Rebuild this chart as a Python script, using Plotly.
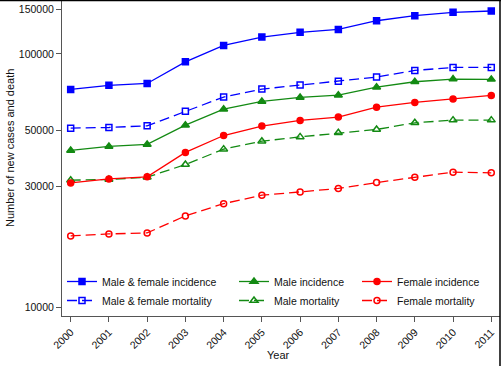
import plotly.graph_objects as go

years = list(range(2000, 2012))
mf_incidence = [72500, 75200, 76500, 93100, 108100, 116600, 121700, 125000, 135200, 141500, 145900, 147700]
mf_mortality = [51000, 51300, 52100, 59500, 67600, 72700, 75400, 78100, 81100, 86100, 88500, 88500]
male_incidence = [41650, 43200, 44000, 52400, 60600, 65000, 67400, 68800, 74000, 77700, 79600, 79400]
male_mortality = [31800, 32000, 32670, 36650, 42140, 45300, 47100, 48870, 50400, 53540, 54850, 54850]
female_incidence = [31000, 32170, 32770, 40900, 47700, 51950, 54700, 56400, 61700, 64400, 66500, 68650]
female_mortality = [19170, 19520, 19700, 22990, 25700, 27740, 28590, 29490, 31120, 32680, 34200, 33980]
y_ticks = [10000, 30000, 50000, 100000, 150000]

BLUE = "#0000ff"
GREEN = "#138a13"
RED = "#ff0000"
FONT = "Liberation Sans, Arial, sans-serif"
FS = 10.5

series = [
    ("Male & female incidence", mf_incidence, BLUE, "square", "solid", "legend"),
    ("Male & female mortality", mf_mortality, BLUE, "square-open", "10px,5px", "legend"),
    ("Male incidence", male_incidence, GREEN, "triangle-up", "solid", "legend2"),
    ("Male mortality", male_mortality, GREEN, "triangle-up-open", "10px,5px", "legend2"),
    ("Female incidence", female_incidence, RED, "circle", "solid", "legend3"),
    ("Female mortality", female_mortality, RED, "circle-open", "10px,5px", "legend3"),
]

fig = go.Figure()
for name, vals, col, sym, dash, leg in series:
    fig.add_trace(go.Scatter(
        x=years, y=vals, name=name, mode="lines+markers",
        line=dict(color=col, width=1.3, dash=dash),
        marker=dict(symbol=sym, size=6 if "triangle" not in sym else 7, color=col,
                    line=dict(color=col, width=1.5)),
        legend=leg,
    ))

L, R, T, B = 62, 1, 1, 50
pw, ph = 501 - L - R, 366 - T - B

def px2x(p):
    return (p - L) / pw

def py2y(p):
    return (366 - B - p) / ph

leg_common = dict(orientation="v", yanchor="top", xanchor="left", bgcolor="rgba(0,0,0,0)",
                  font=dict(family=FONT, size=FS, color="#111"), tracegroupgap=0, borderwidth=0)
ly = py2y(267)
fig.update_layout(
    width=501, height=366,
    margin=dict(l=L, r=R, t=T, b=B, autoexpand=False),
    paper_bgcolor="white", plot_bgcolor="white",
    font=dict(family=FONT, size=FS, color="#111"),
    legend=dict(x=px2x(62), y=ly, **leg_common),
    legend2=dict(x=px2x(234), y=ly, **leg_common),
    legend3=dict(x=px2x(357), y=ly, **leg_common),
    xaxis=dict(range=[1999.773, 2011.228], tickmode="array", tickvals=years,
               ticktext=[str(y) for y in years], tickangle=-45,
               showline=True, linecolor="#555", linewidth=1, ticks="outside",
               ticklen=5, tickcolor="#555", showgrid=False, zeroline=False,
               tickfont=dict(family=FONT, size=FS, color="#111")),
    yaxis=dict(type="log", range=[3.9669, 5.2088], tickmode="array", tickvals=y_ticks,
               ticktext=[str(v) for v in y_ticks],
               showline=True, linecolor="#555", linewidth=1, ticks="outside",
               ticklen=5, tickcolor="#555", showgrid=False, zeroline=False,
               tickfont=dict(family=FONT, size=FS, color="#111")),
    annotations=[
        dict(text="Number of new cases and death", x=px2x(10), y=py2y(148),
             xref="paper", yref="paper", textangle=-90, showarrow=False,
             xanchor="center", yanchor="middle", font=dict(family=FONT, size=11, color="#111")),
        dict(text="Year", x=px2x(278), y=py2y(355), xref="paper", yref="paper",
             showarrow=False, xanchor="center", yanchor="middle",
             font=dict(family=FONT, size=11, color="#111")),
    ],
    shapes=[
        dict(type="line", xref="paper", yref="paper", x0=px2x(0), x1=px2x(501),
             y0=py2y(0.5), y1=py2y(0.5), line=dict(color="black", width=1.5)),
        dict(type="line", xref="paper", yref="paper", x0=px2x(500), x1=px2x(500),
             y0=py2y(0), y1=py2y(366), line=dict(color="black", width=1.5)),
    ],
)

fig.write_html("out.html", config={"displayModeBar": False},
               post_script="document.body.style.margin='0';document.body.style.overflow='hidden';")
